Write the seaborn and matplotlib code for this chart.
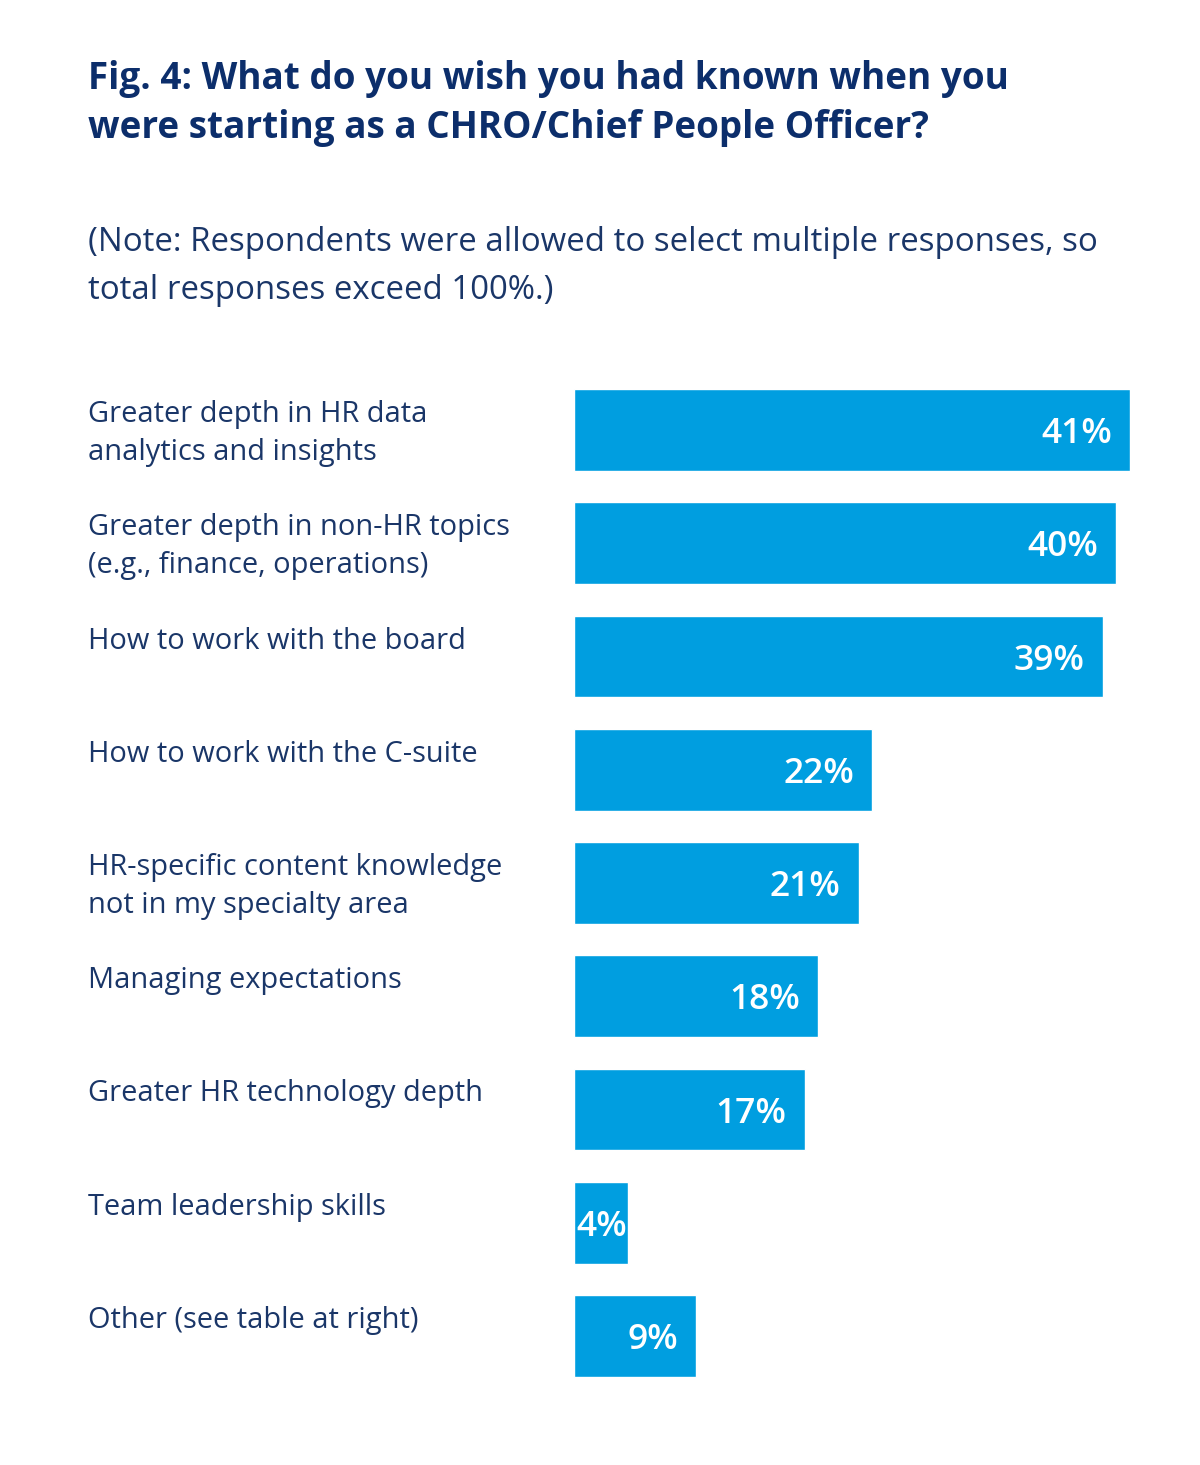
import numpy as np
import matplotlib.pyplot as plt
import pandas as pd
import seaborn as sns
from matplotlib.transforms import blended_transform_factory

categories = [
    'Greater depth in HR data\nanalytics and insights',
    'Greater depth in non-HR topics\n(e.g., finance, operations)',
    'How to work with the board',
    'How to work with the C-suite',
    'HR-specific content knowledge\nnot in my specialty area',
    'Managing expectations',
    'Greater HR technology depth',
    'Team leadership skills',
    'Other (see table at right)',
]
values = [41, 40, 39, 22, 21, 18, 17, 4, 9]

title = 'Fig. 4: What do you wish you had known when you\nwere starting as a CHRO/Chief People Officer?'
note = '(Note: Respondents were allowed to select multiple responses, so\ntotal responses exceed 100%.)'

bar_color = '#009ee0'
navy = '#0c2e6b'
text_navy = '#1a3668'

sns.set_theme(style='white')
plt.rcParams['font.family'] = ['Open Sans', 'DejaVu Sans']

df = pd.DataFrame({'category': categories, 'value': values})

fig = plt.figure(figsize=(12, 14.65), dpi=100)
fig.patch.set_facecolor('white')
ax = fig.add_axes([574 / 1200, 1 - 1392.6 / 1465, (1130 - 574) / 1200, (1392.6 - 373.4) / 1465])

sns.barplot(data=df, y='category', x='value', orient='h', color=bar_color,
            width=0.72, saturation=1, ax=ax)
ax.set_xlim(0, 41)
ax.set_ylim(8.5, -0.5)
ax.set_xlabel('')
ax.set_ylabel('')
ax.set_xticks([])
ax.set_yticks([])
sns.despine(ax=ax, left=True, bottom=True)

# category labels on the left, top-aligned with each bar
trans = blended_transform_factory(fig.transFigure, ax.transData)
for i, cat in enumerate(categories):
    ax.text(88 / 1200, i - 0.265, cat, transform=trans, ha='left', va='top',
            fontsize=20.9, color=text_navy, linespacing=1.39)

# value labels inside the bars
for i, v in enumerate(values):
    lab = f'{v}%'
    if v >= 6:
        ax.annotate(lab, (v, i), xytext=(-13, -3), textcoords='offset points',
                    ha='right', va='center', fontsize=25.5, color='white', fontweight='semibold')
    else:
        ax.annotate(lab, (0, i), xytext=(2, -3), textcoords='offset points',
                    ha='left', va='center', fontsize=25.5, color='white', fontweight='semibold')

fig.text(88 / 1200, 1 - 60 / 1465, title, ha='left', va='top', fontsize=26.6,
         fontweight='bold', color=navy, linespacing=1.37)
fig.text(88 / 1200, 1 - 226 / 1465, note, ha='left', va='top', fontsize=23.8,
         color=text_navy, linespacing=1.59)

fig.savefig('out.png', dpi=100, facecolor='white')
